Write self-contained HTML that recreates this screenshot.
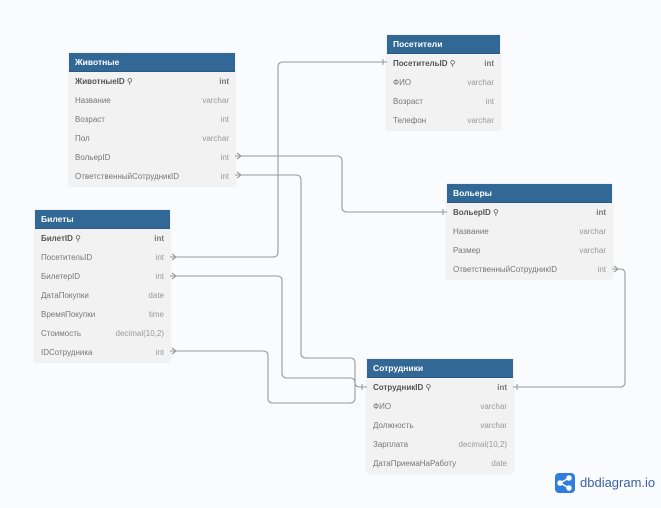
<!DOCTYPE html>
<html><head><meta charset="utf-8"><style>
body{margin:0;width:661px;height:508px;background:#fafbfc;position:relative;overflow:hidden;font-family:"Liberation Sans","DejaVu Sans",sans-serif}
.t{position:absolute;background:#f2f2f2;box-shadow:0 0 2px rgba(0,0,0,.12)}
.h{background:#316896;color:#fff;font-weight:bold;font-size:8.5px;height:18px;line-height:18px;padding-left:6px;border-bottom:1px solid #2a5a84}
.r{height:19px;line-height:19px;font-size:8px;color:#777;padding:0 6px;display:flex;justify-content:space-between}
.r span:last-child{color:#999}
.r.pk{font-weight:bold;color:#555}
.r.pk span:last-child{color:#777}
svg{position:absolute;left:0;top:0}
</style></head><body>
<svg width="661" height="508" fill="none" stroke="#9a9a9a" stroke-width="1.1">
<path d="M170 257H273Q278 257 278 252V67Q278 62 283 62H387"/>
<path d="M235 156H337Q342 156 342 161V207Q342 212 347 212H447"/>
<path d="M235 175H296Q301 175 301 180V353Q301 358 306 358H350Q355 358 355 363V382Q355 387 360 387H367"/>
<path d="M170 276H277Q282 276 282 281V373Q282 378 287 378H350Q355 378 355 383V387"/>
<path d="M170 351H263Q268 351 268 356V398Q268 403 273 403H350Q355 403 355 398V387"/>
<path d="M612 269H620Q625 269 625 274V382Q625 387 620 387H513"/>
<path d="M237 153L241 156L237 159M237 172L241 175L237 178M172 254L176 257L172 260M172 273L176 276L172 279M172 348L176 351L172 354M614 266L618 269L614 272"/>
<path d="M383 59V65M443 209V215M362 384V390M517 384V390"/>
</svg>
<div class="t" style="left:69px;top:53px;width:166px"><div class="h">Животные</div>
<div class="r pk"><span>ЖивотныеID ⚲</span><span>int</span></div>
<div class="r"><span>Название</span><span>varchar</span></div>
<div class="r"><span>Возраст</span><span>int</span></div>
<div class="r"><span>Пол</span><span>varchar</span></div>
<div class="r"><span>ВольерID</span><span>int</span></div>
<div class="r"><span>ОтветственныйСотрудникID</span><span>int</span></div></div>
<div class="t" style="left:387px;top:35px;width:113px"><div class="h">Посетители</div>
<div class="r pk"><span>ПосетительID ⚲</span><span>int</span></div>
<div class="r"><span>ФИО</span><span>varchar</span></div>
<div class="r"><span>Возраст</span><span>int</span></div>
<div class="r"><span>Телефон</span><span>varchar</span></div></div>
<div class="t" style="left:447px;top:184px;width:165px"><div class="h">Вольеры</div>
<div class="r pk"><span>ВольерID ⚲</span><span>int</span></div>
<div class="r"><span>Название</span><span>varchar</span></div>
<div class="r"><span>Размер</span><span>varchar</span></div>
<div class="r"><span>ОтветственныйСотрудникID</span><span>int</span></div></div>
<div class="t" style="left:35px;top:210px;width:135px"><div class="h">Билеты</div>
<div class="r pk"><span>БилетID ⚲</span><span>int</span></div>
<div class="r"><span>ПосетительID</span><span>int</span></div>
<div class="r"><span>БилетерID</span><span>int</span></div>
<div class="r"><span>ДатаПокупки</span><span>date</span></div>
<div class="r"><span>ВремяПокупки</span><span>time</span></div>
<div class="r"><span>Стоимость</span><span>decimal(10,2)</span></div>
<div class="r"><span>IDСотрудника</span><span>int</span></div></div>
<div class="t" style="left:367px;top:359px;width:146px"><div class="h">Сотрудники</div>
<div class="r pk"><span>СотрудникID ⚲</span><span>int</span></div>
<div class="r"><span>ФИО</span><span>varchar</span></div>
<div class="r"><span>Должность</span><span>varchar</span></div>
<div class="r"><span>Зарплата</span><span>decimal(10,2)</span></div>
<div class="r"><span>ДатаПриемаНаРаботу</span><span>date</span></div></div>
<div style="position:absolute;left:555px;top:473px;width:20px;height:20px;background:#2f7de1;border-radius:4px"></div>
<svg width="661" height="508" stroke="#fff" stroke-width="1.5" fill="#fff"><path d="M560 483L569 478M560 483L569 488"/><circle cx="560" cy="483" r="2"/><circle cx="569" cy="478" r="2"/><circle cx="569" cy="488" r="2"/></svg>
<div style="position:absolute;left:580px;top:475px;font-size:13px;color:#3b5fa8">dbdiagram.io</div>
</body></html>
